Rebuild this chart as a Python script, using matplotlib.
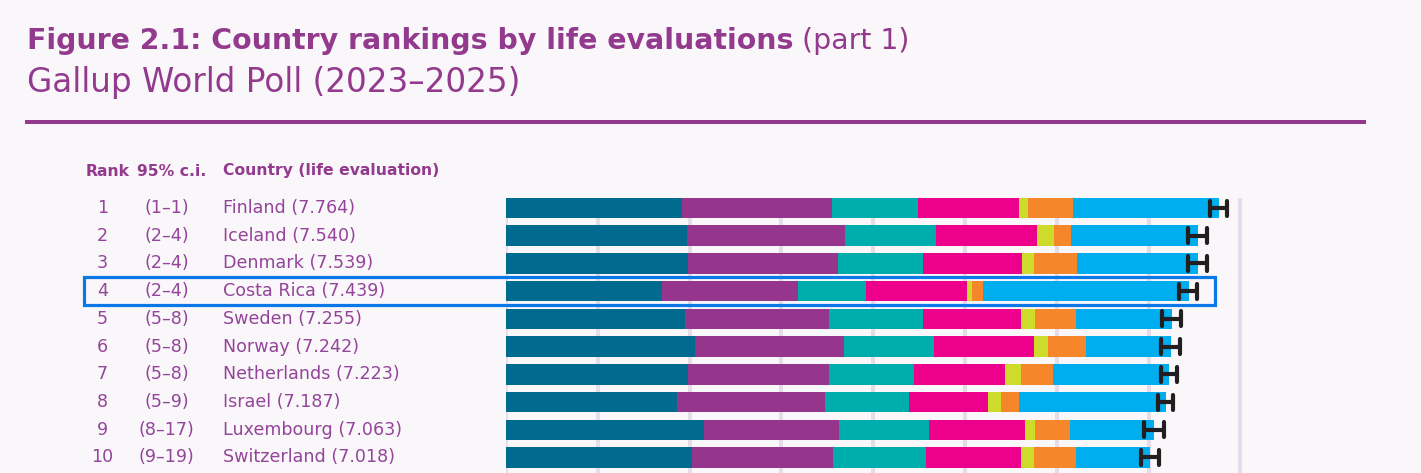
import matplotlib
matplotlib.use("Agg")
import matplotlib.pyplot as plt
from matplotlib.transforms import blended_transform_factory
from matplotlib.patches import Rectangle

plt.rcParams['font.family'] = ['DejaVu Sans']

# Dane
ranks = ["1", "2", "3", "4", "5", "6", "7", "8", "9", "10"]
ci_ranks = ["(1–1)", "(2–4)", "(2–4)", "(2–4)", "(5–8)",
            "(5–8)", "(5–8)", "(5–9)", "(8–17)", "(9–19)"]
countries = ["Finland", "Iceland", "Denmark", "Costa Rica", "Sweden",
             "Norway", "Netherlands", "Israel", "Luxembourg", "Switzerland"]
life_eval = [7.764, 7.540, 7.539, 7.439, 7.255, 7.242, 7.223, 7.187, 7.063, 7.018]

gdp = [1.917, 1.972, 1.983, 1.696, 1.950, 2.059, 1.983, 1.863, 2.157, 2.026]
social = [1.634, 1.721, 1.634, 1.485, 1.569, 1.623, 1.536, 1.612, 1.471, 1.536]
health = [0.937, 0.991, 0.926, 0.741, 1.024, 0.980, 0.926, 0.915, 0.980, 1.013]
freedom = [1.100, 1.100, 1.078, 1.100, 1.068, 1.089, 0.991, 0.861, 1.046, 1.035]
generosity = [0.098, 0.185, 0.131, 0.054, 0.153, 0.153, 0.174, 0.142, 0.109, 0.142]
corruption = [0.490, 0.185, 0.468, 0.120, 0.443, 0.414, 0.349, 0.196, 0.381, 0.458]
dystopia = [1.588, 1.386, 1.319, 2.243, 1.048, 0.924, 1.264, 1.598, 0.919, 0.808]

ci_low = [7.669, 7.429, 7.429, 7.331, 7.146, 7.135, 7.135, 7.102, 6.950, 6.917]
ci_high = [7.854, 7.636, 7.636, 7.527, 7.353, 7.342, 7.309, 7.266, 7.168, 7.113]

highlight_row = 3

# Kolory
bg = '#f9f7fa'
purple_title = '#933a8e'
purple_text = '#94449a'
grid_col = '#e6dbe9'
seg_colors = ['#006a8f', '#96358c', '#00adad', '#ec008c', '#cddc2a', '#f5862a', '#00adee']

W, H = 1421, 473
fig = plt.figure(figsize=(W / 100, H / 100), dpi=100, facecolor=bg)
renderer = fig.canvas.get_renderer()

def fx(x):
    return x / W

def fy(y):
    return 1 - y / H

# Dobór rozmiaru czcionki tak, by tekst miał zadaną szerokość w pikselach
def fit_size(s, width_px, weight='normal'):
    t = fig.text(0, 0, s, fontsize=10, fontweight=weight)
    w = t.get_window_extent(renderer).width
    t.remove()
    return 10 * width_px / w

# Os wykresu: 0 jednostek w x=506 px, 1 jednostka = 91.8 px
x_max = 8.3
row_top = -0.65
row_bot = 9.56
ax = fig.add_axes([fx(506), 0, x_max * 91.8 / W, fy(190)])
ax.set_xlim(0, x_max)
ax.set_ylim(row_bot, row_top)
ax.axis('off')
ax.set_facecolor('none')

# Linie siatki
ax.vlines(range(0, 9), -0.37, row_bot, colors=grid_col, lw=2.9, zorder=0)

# Słupki skumulowane
segments = [gdp, social, health, freedom, generosity, corruption, dystopia]
n = len(countries)
left = [0.0] * n
for seg, col in zip(segments, seg_colors):
    ax.barh(range(n), seg, left=left, height=0.74, color=col, zorder=2)
    left = [l + s for l, s in zip(left, seg)]

# Przedziały ufności
ax.hlines(range(n), ci_low, ci_high, colors='#231f20', lw=3.0, zorder=3)
ax.vlines(ci_low, [i - 0.27 for i in range(n)], [i + 0.27 for i in range(n)],
          colors='#231f20', lw=3.0, capstyle='round', zorder=3)
ax.vlines(ci_high, [i - 0.27 for i in range(n)], [i + 0.27 for i in range(n)],
          colors='#231f20', lw=3.0, capstyle='round', zorder=3)

# Ramka wyróżnienia (Costa Rica)
trans = blended_transform_factory(fig.transFigure, ax.transData)
rect = Rectangle((fx(84), highlight_row - 0.5), fx(1215) - fx(84), 1.0,
                 transform=trans, fill=False, ec='#0a78e6', lw=2.3,
                 clip_on=False, zorder=5)
ax.add_patch(rect)

# Etykiety wierszy
row_fs = fit_size("Finland (7.764)", 132)
for i in range(n):
    ax.text(fx(102.5), i, ranks[i], transform=trans, ha='center', va='center',
            fontsize=row_fs, color=purple_text)
    ax.text(fx(166.7), i, ci_ranks[i], transform=trans, ha='center', va='center',
            fontsize=row_fs, color=purple_text)
    ax.text(fx(222.7), i, f"{countries[i]} ({life_eval[i]:.3f})", transform=trans,
            ha='left', va='center', fontsize=row_fs, color=purple_text)

# Nagłówki kolumn
head_fs = fit_size("Country (life evaluation)", 216, 'bold')
fig.text(fx(85.7), fy(171), "Rank", ha='left', va='center', fontsize=head_fs,
         fontweight='bold', color=purple_title)
fig.text(fx(136.7), fy(171), "95% c.i.", ha='left', va='center', fontsize=head_fs,
         fontweight='bold', color=purple_title)
fig.text(fx(222.7), fy(171), "Country (life evaluation)", ha='left', va='center',
         fontsize=head_fs, fontweight='bold', color=purple_title)

# Tytuł
title_txt = "Figure 2.1: Country rankings by life evaluations"
title_fs = fit_size(title_txt, 765, 'bold')
t1 = fig.text(fx(27), fy(49), title_txt, ha='left', va='baseline',
              fontsize=title_fs, fontweight='bold', color=purple_title)
bb = t1.get_window_extent(renderer)
fig.text(bb.x1 / W + fx(8), fy(49), "(part 1)", ha='left', va='baseline',
         fontsize=title_fs, color=purple_title)
sub_txt = "Gallup World Poll (2023–2025)"
fig.text(fx(27), fy(92), sub_txt, ha='left', va='baseline',
         fontsize=fit_size(sub_txt, 493), color=purple_title)

# Pozioma linia pod tytułem
fig.add_artist(plt.Line2D([fx(27), fx(1364)], [fy(122), fy(122)], color=purple_title,
                          lw=2.9, transform=fig.transFigure))

fig.savefig('out.png', dpi=100, facecolor=bg)
